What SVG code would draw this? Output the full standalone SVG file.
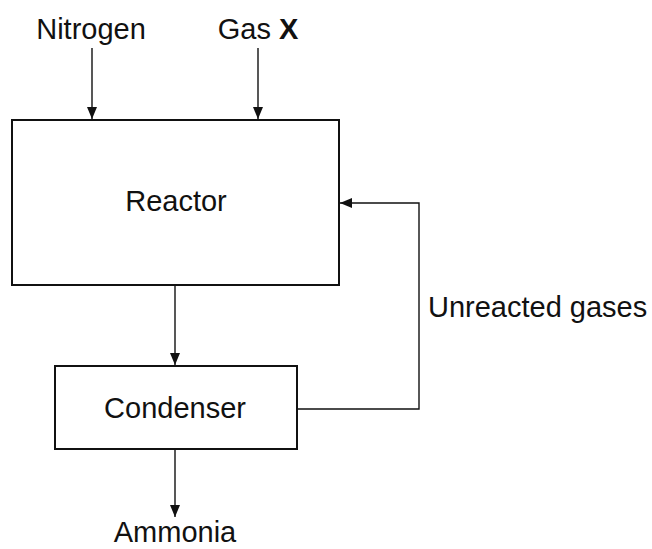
<svg xmlns="http://www.w3.org/2000/svg" width="652" height="549" viewBox="0 0 652 549">
<defs>
<marker id="ah" markerWidth="12" markerHeight="12" viewBox="0 0 12 12" refX="12" refY="6" orient="auto" markerUnits="userSpaceOnUse">
<path d="M0,1 L12,6 L0,11 Z" fill="#111"/>
</marker>
</defs>
<style>
.box{fill:#fff;stroke:#111;stroke-width:2}
.c{fill:none;stroke:#111;stroke-width:1.4;marker-end:url(#ah)}
text{font-family:"Liberation Sans",Arial,sans-serif;font-size:29px;fill:#111}
</style>
<rect width="652" height="549" fill="#fff"/>
<g id="reactor">
<rect class="box" x="12" y="120" width="327" height="165"/>
<text x="176" y="211" text-anchor="middle">Reactor</text>
</g>
<g id="condenser">
<rect class="box" x="55" y="366" width="242" height="83"/>
<text x="175" y="418" text-anchor="middle">Condenser</text>
</g>
<g id="nitrogen"><text x="91" y="39" text-anchor="middle">Nitrogen</text></g>
<g id="gasx"><text x="258" y="39" text-anchor="middle">Gas <tspan font-weight="bold">X</tspan></text></g>
<g id="ammonia"><text x="175" y="542" text-anchor="middle">Ammonia</text></g>
<g id="unreacted"><text x="428" y="317">Unreacted gases</text></g>
<g id="connectors">
<path class="c" d="M92,48 V119"/>
<path class="c" d="M258,48 V119"/>
<path class="c" d="M175,286 V365"/>
<path class="c" d="M175,450 V517"/>
<path class="c" d="M298,409 H419 V203 H340"/>
</g>
</svg>
